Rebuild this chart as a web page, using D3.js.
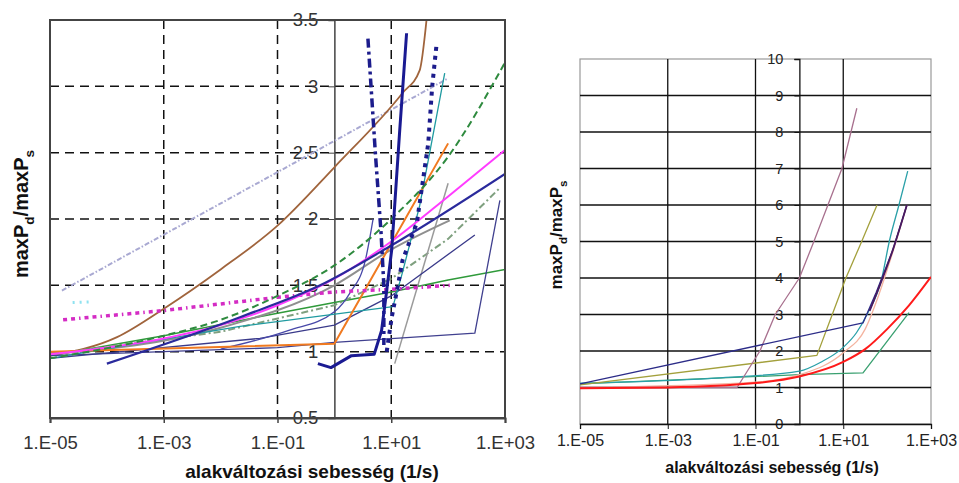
<!DOCTYPE html>
<html>
<head>
<meta charset="utf-8">
<script src="https://cdn.jsdelivr.net/npm/d3@7"></script>
<style>
  body { margin: 0; background: #fff; }
  svg { display: block; }
  text { font-family: "Liberation Sans", Arial, sans-serif; }
</style>
</head>
<body>
<svg id="chart" width="959" height="483"></svg>
<script>
// ---- axis ticks ----
const rateTicks = [1e-5, 1e-3, 1e-1, 1e1, 1e3];
const rateGrid = [1e-3, 1e-1, 1e1];
const ratioTicksLeft = [0.5, 1, 1.5, 2, 2.5, 3, 3.5];
const ratioGridLeft = [1, 1.5, 2, 2.5, 3];
const ratioTicksRight = [0, 1, 2, 3, 4, 5, 6, 7, 8, 9, 10];
const ratioGridRight = [1, 2, 3, 4, 5, 6, 7, 8, 9];
const xTitle = "alakváltozási sebesség (1/s)";

// ---- left panel: [strain rate (1/s), maxPd/maxPs] ----
const lavender = [[1.62e-5, 1.46], [100, 3.06]];
const brown = [[1e-5, 0.97], [1.51e-4, 1.11], [1.05e-3, 1.33], [1e-2, 1.62], [0.1, 1.95], [1, 2.39], [15.8, 2.95], [31.6, 3.12], [41.7, 3.5]];
const greenSolid = [[1e-5, 0.97], [1e-3, 1.12], [0.1, 1.29], [1, 1.37], [10, 1.45], [100, 1.54], [1000, 1.62]];
const greyGreenDash = [[1e-5, 0.98], [1e-2, 1.15], [1, 1.35], [10, 1.55], [100, 1.85], [794, 2.23]];
const greyA = [[11.5, 0.91], [100, 2.27]];
const greyB = [[1e-5, 0.98], [1e-2, 1.18], [1, 1.5], [10, 1.77], [107, 1.99]];
const navyLoop = [[1e-5, 0.97], [0.1, 1.03], [1, 1.07], [295, 1.14], [813, 2.14]];
const navyThin = [[1e-5, 0.95], [0.049, 1.1], [1, 1.2], [10, 1.42], [295, 1.88]];
const slate = [[1e-2, 1.02], [0.158, 1.16], [1, 1.3], [1.86, 1.44], [3.55, 1.7], [4.79, 2.0]];
const teal = [[1e-5, 0.95], [0.0219, 1.19], [10.7, 1.34], [15.8, 1.6], [31.6, 2.1], [87.1, 3.1]];
const orange = [[1e-5, 1.0], [1, 1.06], [100, 2.57]];
const magentaDot = [[1.7e-5, 1.24], [1e-3, 1.31], [0.1, 1.41], [1, 1.45], [10, 1.47], [107, 1.5]];
const cyanDot = [[2.5e-5, 1.37], [5e-5, 1.375]];
const pink = [[1e-5, 0.98], [1e-3, 1.1], [1e-2, 1.2], [0.1, 1.35], [1, 1.55], [10, 1.83], [100, 2.17], [1000, 2.52]];
const greenDash = [[1e-5, 0.95], [1e-3, 1.12], [1e-2, 1.24], [0.1, 1.42], [1, 1.65], [10, 2.0], [100, 2.47], [1000, 3.18]];
const navy = [[1e-4, 0.91], [0.0219, 1.26], [0.562, 1.5], [10, 1.8], [1000, 2.34]];
const navyDashDot = [[3.89, 3.36], [5.25, 2.5], [6.61, 1.9], [7.41, 1.5], [7.41, 1.05]];
const navyDotted = [[8.32, 1.0], [10.2, 1.26], [12.6, 1.46], [15.8, 1.69], [28.2, 1.97], [44.7, 2.57], [52.5, 3.0], [63.1, 3.33]];
const blueBold = [[0.513, 0.91], [0.871, 0.88], [2.0, 0.97], [5.01, 0.98], [6.76, 1.16], [8.32, 1.46], [10.2, 1.77], [14.1, 2.67], [18.6, 3.4]];

// ---- right panel ----
const mauveR = [[1e-5, 1.0], [0.038, 1.0], [0.126, 2.0], [0.282, 3.0], [1, 4.0], [2.14, 5.0], [4.47, 6.0], [9.33, 7.0], [20.4, 8.65]];
const oliveR = [[1e-5, 1.07], [2.51, 1.88], [5.62, 3.0], [11.5, 4.0], [26.3, 5.0], [58.9, 6.0]];
const navyR = [[1e-5, 1.1], [28.2, 2.77], [56.2, 3.6], [135, 4.77], [282, 6.0]];
const tealR = [[1e-5, 1.12], [1e-2, 1.25], [1, 1.45], [3.16, 1.7], [10, 2.1], [20, 2.5], [34.7, 3.0], [75.9, 4.0], [112, 5.0], [186, 6.0], [295, 6.93]];
const peachR = [[1e-5, 1.0], [0.1, 1.15], [1, 1.35], [10, 1.95], [31.6, 2.6], [63, 3.5], [126, 4.6], [282, 6.0]];
const greenR = [[1e-5, 1.1], [1, 1.35], [28.2, 1.4], [316, 3.05]];
const redR = [[1e-5, 0.98], [1e-3, 1.0], [0.1, 1.12], [1, 1.3], [10, 1.7], [31.6, 2.05], [100, 2.6], [316, 3.25], [1000, 4.03]];
const purpleR = [[40, 3.1], [135, 4.77], [282, 6.0]];

// ---- line styles ----
const leftSeries = [
  { data: lavender, color: "#a9a9d2", width: 2, dash: "5,2,1.5,2" },
  { data: brown, color: "#a0643c", width: 1.8, smooth: true },
  { data: greenSolid, color: "#2f9a3a", width: 1.5 },
  { data: greyGreenDash, color: "#7fa07f", width: 2, dash: "7,3,2,3" },
  { data: greyA, color: "#9a9a9a", width: 1.5 },
  { data: greyB, color: "#8f8f8f", width: 2, smooth: true },
  { data: navyLoop, color: "#40408f", width: 1.3 },
  { data: navyThin, color: "#3a3a8a", width: 1.3 },
  { data: slate, color: "#4848a8", width: 1.3, smooth: true },
  { data: teal, color: "#1f9aa0", width: 1.3 },
  { data: orange, color: "#f07a20", width: 2 },
  { data: cyanDot, color: "#8fe2f0", width: 3, dash: "2,5" },
  { data: magentaDot, color: "#d42cc4", width: 3.5, dash: "4,4,4,4,1.5,4" },
  { data: pink, color: "#ff3cff", width: 2, smooth: true },
  { data: greenDash, color: "#2e8a3e", width: 2, dash: "7,4", smooth: true },
  { data: navy, color: "#2a2a9c", width: 2.2, smooth: true },
  { data: navyDashDot, color: "#1c1c8c", width: 3.5, dash: "9,4,3,4" },
  { data: navyDotted, color: "#1c1c8c", width: 4, dash: "4,5" },
  { data: blueBold, color: "#1a1a92", width: 3 }
];
const rightSeries = [
  { data: greenR, color: "#3aa070", width: 1.3 },
  { data: peachR, color: "#f4b4a0", width: 1.3, smooth: true },
  { data: tealR, color: "#2aa0a8", width: 1.3, smooth: true },
  { data: oliveR, color: "#a3a03c", width: 1.3 },
  { data: mauveR, color: "#a8708e", width: 1.3 },
  { data: navyR, color: "#2c2c88", width: 1.3 },
  { data: purpleR, color: "#4a1a60", width: 1.8, smooth: true },
  { data: redR, color: "#ff1a1a", width: 2, smooth: true }
];

const svg = d3.select("#chart");

function rateLabel(d) {
  const e = Math.round(Math.log10(d));
  return "1.E" + (e < 0 ? "-" : "+") + String(Math.abs(e)).padStart(2, "0");
}

function yTitle(g, x, y, size) {
  const t = g.append("text")
    .attr("transform", `translate(${x},${y}) rotate(-90)`)
    .attr("text-anchor", "middle")
    .attr("font-weight", "bold")
    .attr("font-size", size)
    .attr("fill", "#111");
  const sub = size * 0.68, shift = size * 0.3;
  t.append("tspan").text("maxP");
  t.append("tspan").attr("font-size", sub).attr("dy", shift).text("d");
  t.append("tspan").attr("dy", -shift).text("/maxP");
  t.append("tspan").attr("font-size", sub).attr("dy", shift).text("s");
}

function drawSeries(g, list, x, y, clipId) {
  const straight = d3.line().x(d => x(d[0])).y(d => y(d[1]));
  const smooth = d3.line().x(d => x(d[0])).y(d => y(d[1])).curve(d3.curveMonotoneX);
  const lg = g.append("g").attr("clip-path", `url(#${clipId})`);
  list.forEach(s => {
    lg.append("path")
      .attr("d", (s.smooth ? smooth : straight)(s.data))
      .attr("fill", "none")
      .attr("stroke", s.color)
      .attr("stroke-width", s.width)
      .attr("stroke-dasharray", s.dash || null)
      .attr("stroke-linejoin", "round");
  });
}

// ================= left panel =================
{
  const L = { x0: 50, x1: 505, y0: 20, y1: 418 };
  const x = d3.scaleLog().domain([1e-5, 1e3]).range([L.x0, L.x1]);
  const y = d3.scaleLinear().domain([0.5, 3.5]).range([L.y1, L.y0]);
  const g = svg.append("g");

  g.append("clipPath").attr("id", "clipL").append("rect")
    .attr("x", L.x0).attr("y", L.y0).attr("width", L.x1 - L.x0).attr("height", L.y1 - L.y0);

  // dashed grid
  g.append("g").selectAll("line").data(ratioGridLeft).join("line")
    .attr("x1", L.x0).attr("x2", L.x1).attr("y1", d => y(d)).attr("y2", d => y(d))
    .attr("stroke", "#111").attr("stroke-width", 1.5).attr("stroke-dasharray", "9,6");
  g.append("g").selectAll("line").data(rateGrid).join("line")
    .attr("x1", d => x(d)).attr("x2", d => x(d)).attr("y1", L.y0).attr("y2", L.y1)
    .attr("stroke", "#111").attr("stroke-width", 1.5).attr("stroke-dasharray", "9,6");

  // y axis crossing at 1/s
  const ya = g.append("g").attr("transform", `translate(${x(1)},0)`)
    .call(d3.axisLeft(y).tickValues(ratioTicksLeft).tickSize(6).tickPadding(10).tickFormat(d3.format("")));
  ya.select(".domain").attr("stroke", "#444").attr("stroke-width", 1.5);
  ya.selectAll(".tick line").attr("stroke", "#444");
  ya.selectAll("text").attr("font-size", 18.5).attr("fill", "#333").attr("font-family", "Liberation Sans, Arial, sans-serif");

  drawSeries(g, leftSeries, x, y, "clipL");

  // frame
  g.append("rect").attr("x", L.x0).attr("y", L.y0).attr("width", L.x1 - L.x0).attr("height", L.y1 - L.y0)
    .attr("fill", "none").attr("stroke", "#444").attr("stroke-width", 2);

  const xa = g.append("g").attr("transform", `translate(0,${L.y1})`)
    .call(d3.axisBottom(x).tickValues(rateTicks).tickSize(5).tickPadding(13).tickFormat(rateLabel));
  xa.select(".domain").attr("stroke", "#444").attr("stroke-width", 2);
  xa.selectAll(".tick line").attr("stroke", "#444").attr("stroke-width", 1.5);
  xa.selectAll("text").attr("font-size", 18.5).attr("fill", "#333").attr("font-family", "Liberation Sans, Arial, sans-serif");

  g.append("text").attr("x", 312).attr("y", 478).attr("text-anchor", "middle")
    .attr("font-weight", "bold").attr("font-size", 19).attr("fill", "#111").text(xTitle);
  yTitle(g, 28, 214, 20);
}

// ================= right panel =================
{
  const R = { x0: 580, x1: 931, y0: 59, y1: 424 };
  const x = d3.scaleLog().domain([1e-5, 1e3]).range([R.x0, R.x1]);
  const y = d3.scaleLinear().domain([0, 10]).range([R.y1, R.y0]);
  const g = svg.append("g");

  g.append("clipPath").attr("id", "clipR").append("rect")
    .attr("x", R.x0).attr("y", R.y0).attr("width", R.x1 - R.x0).attr("height", R.y1 - R.y0);

  g.append("rect").attr("x", R.x0).attr("y", R.y0).attr("width", R.x1 - R.x0).attr("height", R.y1 - R.y0)
    .attr("fill", "none").attr("stroke", "#999").attr("stroke-width", 1.2);

  g.append("g").selectAll("line").data(ratioGridRight).join("line")
    .attr("x1", R.x0).attr("x2", R.x1).attr("y1", d => y(d)).attr("y2", d => y(d))
    .attr("stroke", "#111").attr("stroke-width", 1.3);
  g.append("g").selectAll("line").data(rateGrid).join("line")
    .attr("x1", d => x(d)).attr("x2", d => x(d)).attr("y1", R.y0).attr("y2", R.y1)
    .attr("stroke", "#111").attr("stroke-width", 1.3);

  const ya = g.append("g").attr("transform", `translate(${x(1)},0)`)
    .call(d3.axisLeft(y).tickValues(ratioTicksRight).tickSize(5).tickPadding(11).tickFormat(d3.format("")));
  ya.select(".domain").attr("stroke", "#111").attr("stroke-width", 1.3);
  ya.selectAll(".tick line").attr("stroke", "#111");
  ya.selectAll("text").attr("font-size", 14.5).attr("fill", "#222").attr("font-family", "Liberation Sans, Arial, sans-serif");

  drawSeries(g, rightSeries, x, y, "clipR");

  const xa = g.append("g").attr("transform", `translate(0,${R.y1})`)
    .call(d3.axisBottom(x).tickValues(rateTicks).tickSize(5).tickPadding(6).tickFormat(rateLabel));
  xa.select(".domain").attr("stroke", "#111").attr("stroke-width", 1.3);
  xa.selectAll(".tick line").attr("stroke", "#111");
  xa.selectAll("text").attr("font-size", 16).attr("fill", "#222").attr("font-family", "Liberation Sans, Arial, sans-serif");

  g.append("text").attr("x", 772).attr("y", 473).attr("text-anchor", "middle")
    .attr("font-weight", "bold").attr("font-size", 16).attr("fill", "#111").text(xTitle);
  yTitle(g, 562, 235, 17);
}
</script>
</body>
</html>
